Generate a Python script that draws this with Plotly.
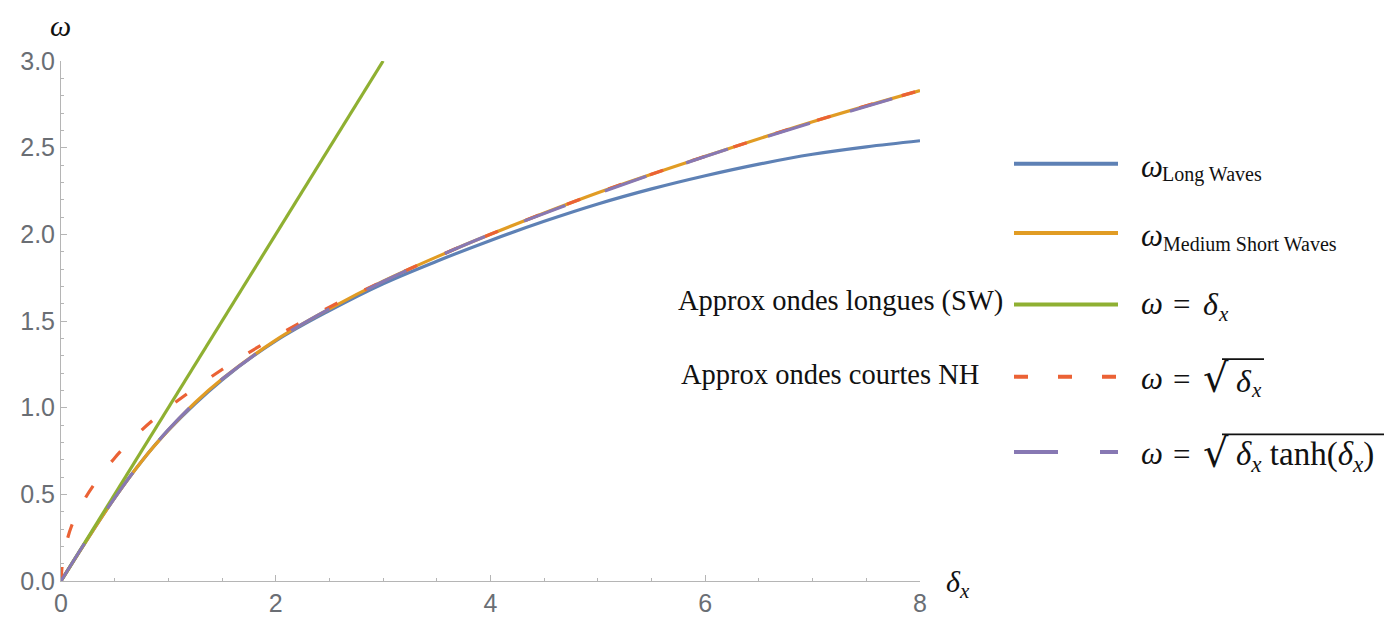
import plotly.graph_objects as go

# ---- data ----
x_long = [0, 0.25, 0.5, 0.75, 1, 1.5, 2, 2.5, 3, 3.5, 4, 4.5, 5, 5.5, 6, 6.5, 7, 7.5, 8]
w_long = [0, 0.245, 0.48, 0.69, 0.87, 1.16, 1.385, 1.56, 1.715, 1.845, 1.965, 2.075, 2.175, 2.262, 2.338, 2.405, 2.462, 2.505, 2.54]

x_medium = [0, 0.25, 0.5, 0.75, 1, 1.25, 1.5, 2, 2.5, 3, 3.5, 4, 5, 6, 7, 8]
w_medium = [0, 0.245, 0.48, 0.69, 0.87, 1.03, 1.165, 1.39, 1.57, 1.73, 1.87, 2.0, 2.24, 2.45, 2.65, 2.83]

x_sw = [0, 3]
w_sw = [0, 3]

x_nh = [0, 0.02, 0.05, 0.1, 0.2, 0.3, 0.5, 0.75, 1, 1.5, 2, 2.5, 3, 3.5, 4, 5, 6, 7, 8]
w_nh = [0, 0.14, 0.22, 0.32, 0.45, 0.55, 0.71, 0.87, 1.0, 1.22, 1.41, 1.58, 1.73, 1.87, 2.0, 2.24, 2.45, 2.65, 2.83]

x_full = [0, 0.25, 0.5, 0.75, 1, 1.25, 1.5, 2, 2.5, 3, 3.5, 4, 5, 6, 7, 8]
w_full = [0, 0.247, 0.48, 0.69, 0.873, 1.03, 1.165, 1.389, 1.57, 1.728, 1.869, 2.0, 2.236, 2.449, 2.646, 2.828]

x_ticks = [0, 2, 4, 6, 8]
y_ticks = [0, 0.5, 1.0, 1.5, 2.0, 2.5, 3.0]
y_ticklabels = ["0.0", "0.5", "1.0", "1.5", "2.0", "2.5", "3.0"]

BLUE = "#5E81B5"
ORANGE = "#E19C24"
GREEN = "#8FB032"
RED = "#EB6235"
PURPLE = "#8778B3"
INK = "#111111"

SERIF = "Liberation Serif"
RED_DASH = "14px,30px"
PURPLE_DASH = "44px,42px"

fig = go.Figure()
fig.add_trace(go.Scatter(x=x_long, y=w_long, mode="lines", line=dict(color=BLUE, width=3.2, shape="spline"), showlegend=False))
fig.add_trace(go.Scatter(x=x_medium, y=w_medium, mode="lines", line=dict(color=ORANGE, width=3.2, shape="spline"), showlegend=False))
fig.add_trace(go.Scatter(x=x_sw, y=w_sw, mode="lines", line=dict(color=GREEN, width=3.2), showlegend=False))
fig.add_trace(go.Scatter(x=x_nh, y=w_nh, mode="lines", line=dict(color=RED, width=3.2, shape="spline", dash=RED_DASH), showlegend=False))
fig.add_trace(go.Scatter(x=x_full, y=w_full, mode="lines", line=dict(color=PURPLE, width=3.2, shape="spline", dash=PURPLE_DASH), showlegend=False))

L, R, T, B = 61, 471, 61, 36
W, H = 1391, 629
pw, ph = W - L - R, H - T - B


def px(xp):
    return (xp - L) / pw


def py(yp):
    return (H - B - yp) / ph


shapes = []
annotations = []


def text(xp, yp, s, size, anchor="left", family=SERIF):
    annotations.append(dict(xref="paper", yref="paper", x=px(xp), y=py(yp), xanchor=anchor,
                            yanchor="middle", text=s, showarrow=False,
                            font=dict(family=family, size=size, color=INK)))


def hline(x0, x1, yp, color, width, dash=None):
    line = dict(color=color, width=width)
    if dash:
        line["dash"] = dash
    shapes.append(dict(type="line", xref="paper", yref="paper", x0=px(x0), x1=px(x1),
                       y0=py(yp), y1=py(yp), line=line))


# legend samples
legend_rows = [(BLUE, None, 166), (ORANGE, None, 237), (GREEN, None, 310),
               (RED, RED_DASH, 384), (PURPLE, PURPLE_DASH, 461)]
for color, dash, yp in legend_rows:
    hline(1014, 1118, yp, color, 4, dash)

# legend labels
text(1139, 169, "<i>ω</i>", 31)
text(1160, 177, "Long Waves", 20)
text(1139, 240, "<i>ω</i>", 31)
text(1161, 248, "Medium Short Waves", 20)

text(1139, 309, "<i>ω</i>", 31)
text(1181, 310, "=", 31, "center")
text(1201, 310, "<i>δ</i>", 32)
text(1216, 320, "<i>x</i>", 21)

text(1139, 386, "<i>ω</i>", 31)
text(1181, 387, "=", 31, "center")
text(1201, 385, "√", 40, family="DejaVu Serif")
hline(1222, 1264, 366, INK, 1.6)
text(1234, 388, "<i>δ</i>", 32)
text(1249, 398, "<i>x</i>", 21)

text(1139, 463, "<i>ω</i>", 31)
text(1181, 464, "=", 31, "center")
text(1201, 462, "√", 40, family="DejaVu Serif")
hline(1222, 1384, 443, INK, 1.6)
text(1234, 466, "<i>δ</i><sub><i>x</i></sub> tanh(<i>δ</i><sub><i>x</i></sub>)", 33)

# side notes
text(676, 307, "Approx ondes longues (SW)", 28.5)
text(679, 382, "Approx ondes courtes NH", 28.5)

# axis labels
text(60, 25, "<i>ω</i>", 30, "center")
text(944, 596, "<i>δ</i><sub><i>x</i></sub>", 30)

axis_common = dict(showgrid=False, zeroline=False, showline=True, linecolor="#b5b5b5", linewidth=1,
                   ticks="inside", tickcolor="#b5b5b5", ticklen=6, tickwidth=1,
                   tickfont=dict(family="Liberation Sans", size=25, color="#6a6e74"))

fig.update_layout(
    width=W, height=H,
    margin=dict(l=L, r=R, t=T, b=B, pad=0),
    paper_bgcolor="white", plot_bgcolor="white",
    xaxis=dict(range=[0, 8], tickvals=x_ticks, ticktext=[str(v) for v in x_ticks],
               minor=dict(dtick=0.5, ticks="inside", ticklen=3, tickcolor="#b5b5b5"), **axis_common),
    yaxis=dict(range=[0, 3], tickvals=y_ticks, ticktext=y_ticklabels,
               minor=dict(dtick=0.1, ticks="inside", ticklen=3, tickcolor="#b5b5b5"), **axis_common),
    shapes=shapes,
    annotations=annotations,
)
fig.write_html("out.html")
